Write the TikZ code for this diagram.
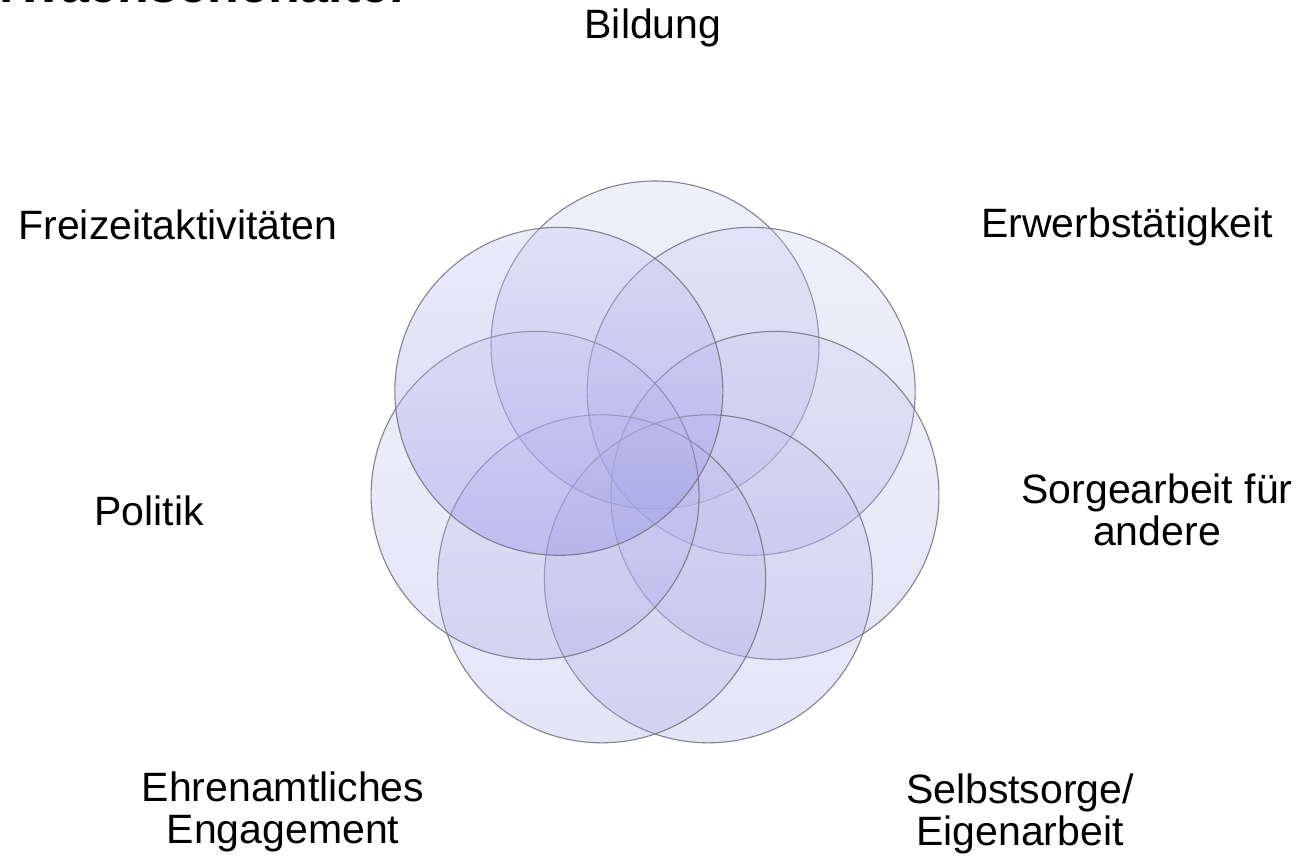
\documentclass[tikz,border=0pt]{standalone}
\usepackage{fontspec}
\setmainfont{Liberation Sans}
\usetikzlibrary{calc}
\begin{document}
\begin{tikzpicture}[x=1pt,y=-1pt,
  petal/.style={circle, minimum size=328pt, inner sep=0pt, draw={rgb,255:red,112;green,112;blue,124}, line width=1.1pt,
    top color={rgb,255:red,200;green,200;blue,240}, bottom color={rgb,255:red,160;green,160;blue,228}, fill opacity=0.28, draw opacity=0.85},
  toppetal/.style={petal, bottom color={rgb,255:red,140;green,140;blue,232}, fill opacity=0.36},
  lbl/.style={font=\fontsize{41}{42}\selectfont, align=center, text=black, inner sep=0pt}]
\useasboundingbox (0,0) rectangle (1307,862);
\fill[white] (0,0) rectangle (1307,862);
\begin{scope}
\clip (0,0) rectangle (1307,862);
\node[anchor=base east, inner sep=0pt, font=\fontsize{52}{56}\selectfont\bfseries] (title) at (410,2) {Erwachsenenalter};
\end{scope}
% petals
\coordinate (m) at (655,468);
\foreach \i/\a in {1/90,2/38.57,3/-12.86,4/-64.29,5/-115.71,6/-167.14}{
  \node[petal] (c\i) at ($(m)+(-\a:123)$) {};
}
\node[toppetal] (c7) at ($(m)+(-141.43:123)$) {};
% labels
\node[lbl, anchor=base] (bildung) at (653,38) {Bildung};
\node[lbl, anchor=base] (erwerb) at (1127,237) {Erwerbstätigkeit};
\node[lbl, anchor=base] (sorge) at (1157,545) {Sorgearbeit für\\andere};
\node[lbl, anchor=base] (selbst) at (1020,845) {Selbstsorge/\\Eigenarbeit};
\node[lbl, anchor=base] (ehren) at (283,843) {Ehrenamtliches\\Engagement};
\node[lbl, anchor=base] (politik) at (149,525) {Politik};
\node[lbl, anchor=base] (freizeit) at (178,239) {Freizeitaktivitäten};
\end{tikzpicture}
\end{document}
